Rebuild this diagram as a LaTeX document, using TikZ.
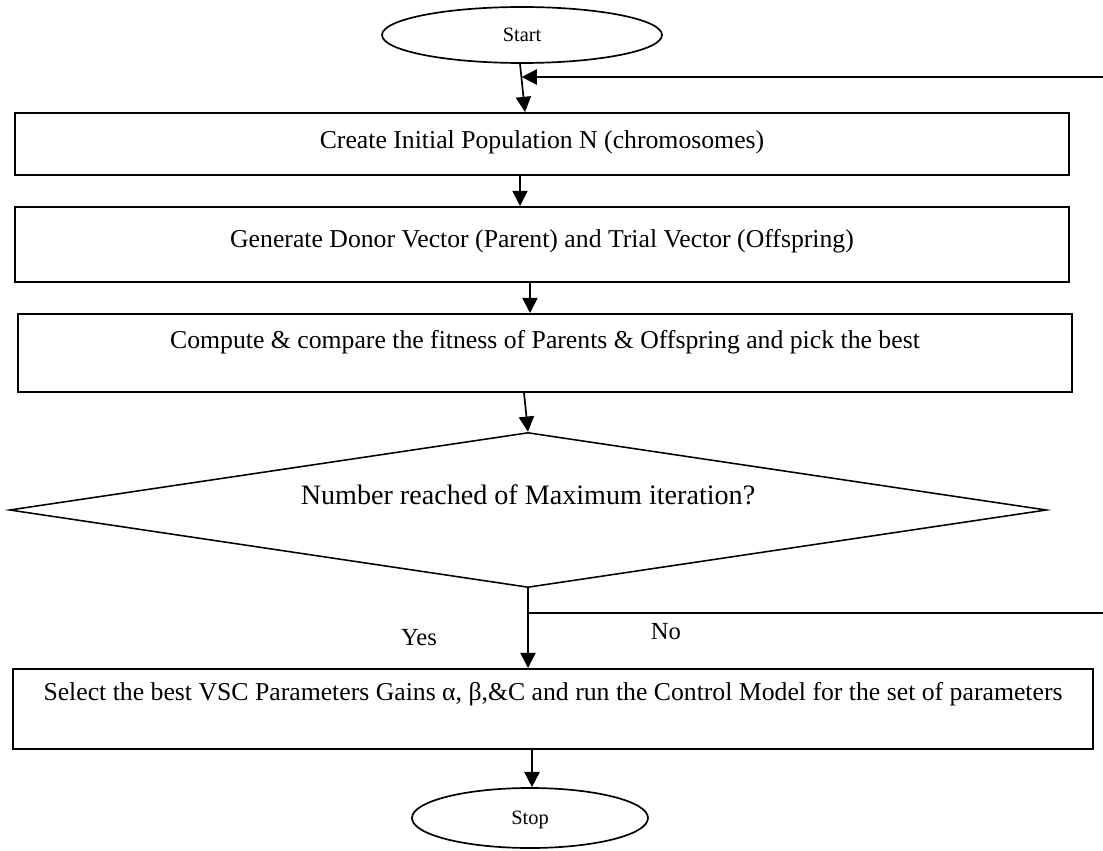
\documentclass[tikz,border=0pt]{standalone}
\usepackage{fontspec}
\setmainfont{Liberation Serif}
\usetikzlibrary{shapes.geometric}
\usetikzlibrary{arrows.meta, positioning}

\begin{document}
\begin{tikzpicture}[
   box/.style={draw, rectangle, line width=1.4pt, inner sep=0pt, font=\fontsize{18.3}{22}\selectfont},
   term/.style={draw, ellipse, line width=1.2pt, inner sep=0pt, text depth=0pt, font=\fontsize{14.5}{16}\selectfont},
   flow/.style={line width=1.2pt, -{Triangle[length=0.38cm, width=0.38cm]}}]
   \useasboundingbox (0,0) rectangle (27.575,-21.25);
   \clip (0,0) rectangle (27.575,-21.25);
   \node[term, minimum width=7cm, minimum height=1.4cm] (start) at (13.05,-0.875) {Start};
   \node[box, anchor=north, minimum width=26.35cm, minimum height=1.55cm, text height=0.9cm, text depth=0.65cm] (init) at (13.55,-2.8) {Create Initial Population N (chromosomes)};
   \node[box, anchor=north, minimum width=26.35cm, minimum height=1.875cm, text height=1.025cm, text depth=0.85cm] (gen) at (13.55,-5.15) {Generate Donor Vector (Parent) and Trial Vector (Offspring)};
   \node[box, anchor=north, minimum width=26.35cm, minimum height=1.95cm, text height=0.875cm, text depth=1.075cm] (comp) at (13.625,-7.825) {Compute \& compare the fitness of Parents \& Offspring and pick the best};
   \node[draw, diamond, aspect=7, line width=1.1pt, inner sep=0pt, minimum width=25.925cm, minimum height=3.875cm, text height=0.5cm, text depth=0.8cm, font=\fontsize{20}{24}\selectfont] (check) at (13.2,-12.75) {Number reached of Maximum iteration?};
   \node[box, anchor=north, minimum width=27cm, minimum height=2cm, text height=0.8cm, text depth=1.2cm] (sel) at (13.825,-16.7) {Select the best VSC Parameters Gains α, β,\&C and run the Control Model for the set of parameters};
   \node[term, minimum width=5.9cm, minimum height=1.5cm] (stop) at (13.25,-20.45) {Stop};
   \coordinate (yesno) at (13.2,-15.325);
   \coordinate (loopin) at (13.04,-1.925);
   \node[font=\fontsize{17.5}{20}\selectfont] (yes) at (10.475,-15.95) {Yes};
   \node[font=\fontsize{17.5}{20}\selectfont] (no) at (16.65,-15.8) {No};
   \draw[flow] ([xshift=-0.05cm]start.south) -- ([xshift=-0.425cm]init.north);
   \draw[flow] ([xshift=-0.55cm]init.south) -- ([xshift=-0.55cm]gen.north);
   \draw[flow] ([xshift=-0.3cm]gen.south) -- ([xshift=-0.375cm]comp.north);
   \draw[flow] ([xshift=-0.525cm]comp.south) -- (check.north);
   \draw[flow] (check.south) -- ([xshift=-0.625cm]sel.north);
   \draw[flow] ([xshift=-0.525cm]sel.south) -- ([xshift=0.05cm]stop.north);
   \draw[flow] (yesno) -- ++(14.6,0) |- (loopin);
\end{tikzpicture}
\end{document}
